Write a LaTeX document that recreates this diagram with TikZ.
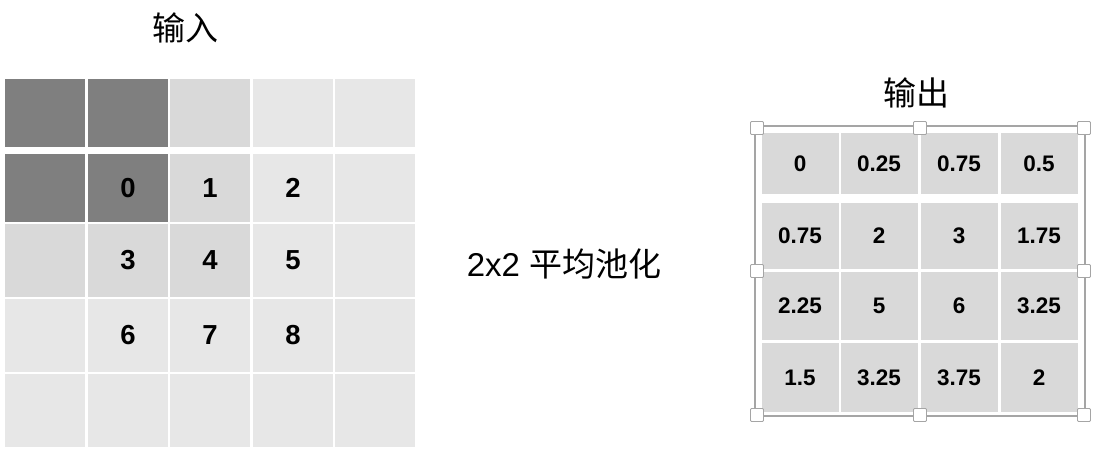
\documentclass[tikz,border=0pt]{standalone}
\definecolor{poolDark}{RGB}{127,127,127}
\definecolor{poolMid}{RGB}{217,217,217}
\definecolor{poolLight}{RGB}{231,231,231}
\definecolor{poolFrame}{RGB}{165,165,165}
\usepackage{tikz}
\usepackage{fontspec}
\setmainfont{Liberation Sans}
\newfontfamily\cjk{Noto Sans CJK SC}
\usetikzlibrary{positioning}

\begin{document}
\begin{tikzpicture}[
    x=1pt, y=-1pt,
    cell/.style={rectangle, inner sep=0pt, minimum width=80pt,
                 font=\fontsize{27.5}{27.5}\selectfont\bfseries},
    rowA/.style={cell, minimum height=68pt},
    rowB/.style={cell, minimum height=73pt},
    outcell/.style={rectangle, inner sep=0pt, minimum width=77pt, fill=poolMid,
                    font=\fontsize{22.5}{22.5}\selectfont\bfseries},
    handle/.style={rectangle, rounded corners=1pt, minimum size=13pt, inner sep=0pt,
                   fill=white, draw=poolFrame, line width=0.8pt},
    title/.style={font=\fontsize{33}{33}\selectfont\cjk}
  ]
  \useasboundingbox (0,0) rectangle (1099,450);

  % input 5x5
  \node[rowA, fill=poolDark]  (i11) at (45,  113) {};
  \node[rowA, fill=poolDark]  (i12) at (128, 113) {};
  \node[rowA, fill=poolMid]   (i13) at (210, 113) {};
  \node[rowA, fill=poolLight] (i14) at (293, 113) {};
  \node[rowA, fill=poolLight] (i15) at (375, 113) {};

  \node[rowA, fill=poolDark]  (i21) at (45,  188) {};
  \node[rowA, fill=poolDark]  (i22) at (128, 188) {0};
  \node[rowA, fill=poolMid]   (i23) at (210, 188) {1};
  \node[rowA, fill=poolLight] (i24) at (293, 188) {2};
  \node[rowA, fill=poolLight] (i25) at (375, 188) {};

  \node[rowB, fill=poolMid]   (i31) at (45,  260.5) {};
  \node[rowB, fill=poolMid]   (i32) at (128, 260.5) {3};
  \node[rowB, fill=poolMid]   (i33) at (210, 260.5) {4};
  \node[rowB, fill=poolLight] (i34) at (293, 260.5) {5};
  \node[rowB, fill=poolLight] (i35) at (375, 260.5) {};

  \node[rowB, fill=poolLight] (i41) at (45,  335.5) {};
  \node[rowB, fill=poolLight] (i42) at (128, 335.5) {6};
  \node[rowB, fill=poolLight] (i43) at (210, 335.5) {7};
  \node[rowB, fill=poolLight] (i44) at (293, 335.5) {8};
  \node[rowB, fill=poolLight] (i45) at (375, 335.5) {};

  \node[rowB, fill=poolLight] (i51) at (45,  410.5) {};
  \node[rowB, fill=poolLight] (i52) at (128, 410.5) {};
  \node[rowB, fill=poolLight] (i53) at (210, 410.5) {};
  \node[rowB, fill=poolLight] (i54) at (293, 410.5) {};
  \node[rowB, fill=poolLight] (i55) at (375, 410.5) {};

  \node[title] (inTitle) at (185, 28) {输入};

  \node[font=\fontsize{33}{33}\selectfont] (poolLabel) at (564, 264)
    {2x2 {\cjk 平均池化}};

  % output 4x4 with selection frame
  \draw[poolFrame, line width=1.2pt] (755,126) rectangle (1085,416);

  \node[outcell, minimum height=61pt] (o11) at (800,  163.5) {0};
  \node[outcell, minimum height=61pt] (o12) at (879,  163.5) {0.25};
  \node[outcell, minimum height=61pt] (o13) at (959,  163.5) {0.75};
  \node[outcell, minimum height=61pt] (o14) at (1039, 163.5) {0.5};

  \node[outcell, minimum height=66pt] (o21) at (800,  236) {0.75};
  \node[outcell, minimum height=66pt] (o22) at (879,  236) {2};
  \node[outcell, minimum height=66pt] (o23) at (959,  236) {3};
  \node[outcell, minimum height=66pt] (o24) at (1039, 236) {1.75};

  \node[outcell, minimum height=68pt] (o31) at (800,  306) {2.25};
  \node[outcell, minimum height=68pt] (o32) at (879,  306) {5};
  \node[outcell, minimum height=68pt] (o33) at (959,  306) {6};
  \node[outcell, minimum height=68pt] (o34) at (1039, 306) {3.25};

  \node[outcell, minimum height=69pt] (o41) at (800,  377.5) {1.5};
  \node[outcell, minimum height=69pt] (o42) at (879,  377.5) {3.25};
  \node[outcell, minimum height=69pt] (o43) at (959,  377.5) {3.75};
  \node[outcell, minimum height=69pt] (o44) at (1039, 377.5) {2};

  \node[handle] (hNW) at (757, 128) {};
  \node[handle] (hN)  at (920, 128) {};
  \node[handle] (hNE) at (1084,128) {};
  \node[handle] (hW)  at (757, 271) {};
  \node[handle] (hE)  at (1084,271) {};
  \node[handle] (hSW) at (757, 415) {};
  \node[handle] (hS)  at (920, 415) {};
  \node[handle] (hSE) at (1084,415) {};

  \node[title] (outTitle) at (916, 93) {输出};
\end{tikzpicture}
\end{document}
